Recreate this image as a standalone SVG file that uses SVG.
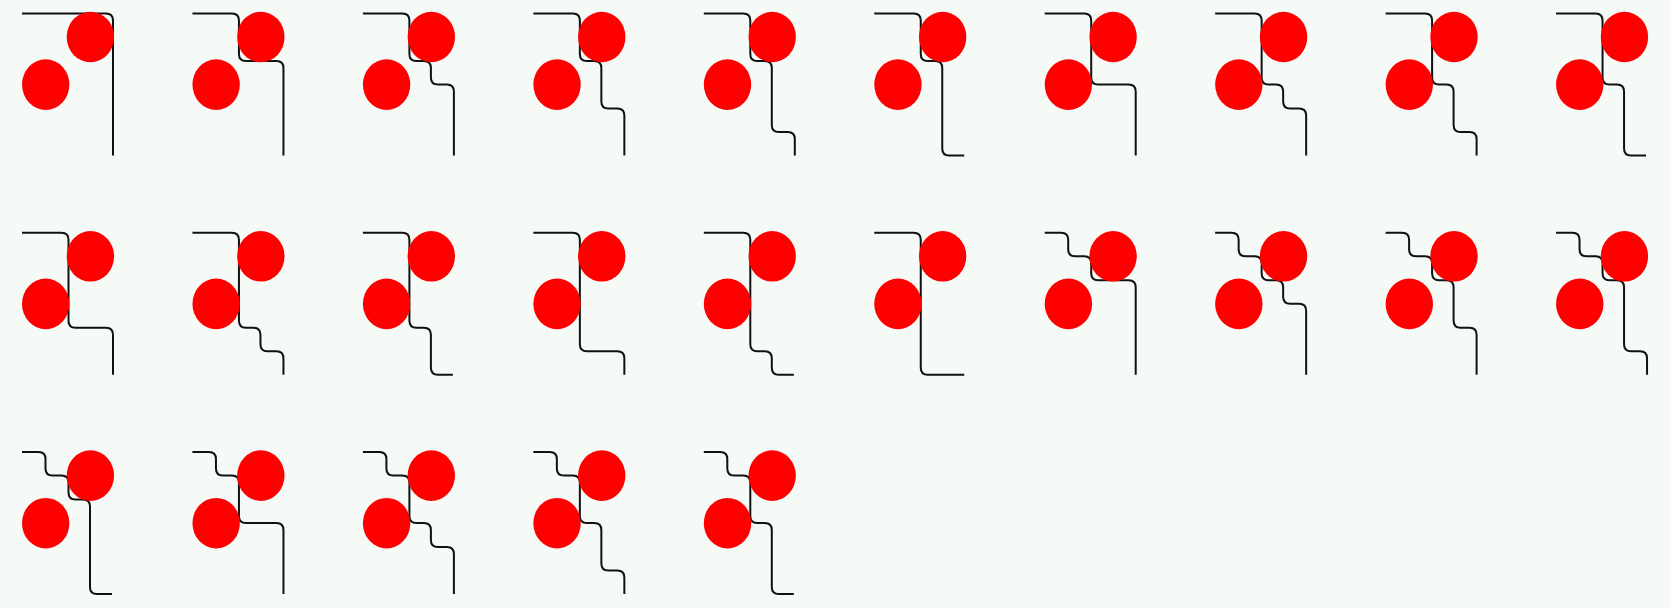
<svg xmlns="http://www.w3.org/2000/svg" width="1671" height="608" viewBox="0 0 1671 608">
<style>
.e{fill:none;stroke:#111;stroke-width:2;stroke-linejoin:round}
.n{fill:#ff0000}
</style>
<rect x="0" y="0" width="1671" height="608" fill="#f5faf7"/>
<g id="connectors">
<path class="e" transform="translate(0,0)" d="M22 13.5 H106 Q113 13.5 113 20.5 V155.5"/>
<path class="e" transform="translate(170.45,0)" d="M22 13.5 H61.5 Q68.5 13.5 68.5 20.5 V54 Q68.5 61 75.5 61 H106 Q113 61 113 68 V155.5"/>
<path class="e" transform="translate(340.9,0)" d="M22 13.5 H61.5 Q68.5 13.5 68.5 20.5 V54 Q68.5 61 75.5 61 H83 Q90 61 90 68 V77.5 Q90 84.5 97 84.5 H106 Q113 84.5 113 91.5 V155.5"/>
<path class="e" transform="translate(511.35,0)" d="M22 13.5 H61.5 Q68.5 13.5 68.5 20.5 V54 Q68.5 61 75.5 61 H83 Q90 61 90 68 V101.5 Q90 108.5 97 108.5 H106 Q113 108.5 113 115.5 V155.5"/>
<path class="e" transform="translate(681.8,0)" d="M22 13.5 H61.5 Q68.5 13.5 68.5 20.5 V54 Q68.5 61 75.5 61 H83 Q90 61 90 68 V125 Q90 132 97 132 H106 Q113 132 113 139 V155.5"/>
<path class="e" transform="translate(852.25,0)" d="M22 13.5 H61.5 Q68.5 13.5 68.5 20.5 V54 Q68.5 61 75.5 61 H83 Q90 61 90 68 V148.5 Q90 155.5 97 155.5 H112"/>
<path class="e" transform="translate(1022.7,0)" d="M22 13.5 H61.5 Q68.5 13.5 68.5 20.5 V77.5 Q68.5 84.5 75.5 84.5 H106 Q113 84.5 113 91.5 V155.5"/>
<path class="e" transform="translate(1193.15,0)" d="M22 13.5 H61.5 Q68.5 13.5 68.5 20.5 V77.5 Q68.5 84.5 75.5 84.5 H83 Q90 84.5 90 91.5 V101.5 Q90 108.5 97 108.5 H106 Q113 108.5 113 115.5 V155.5"/>
<path class="e" transform="translate(1363.6,0)" d="M22 13.5 H61.5 Q68.5 13.5 68.5 20.5 V77.5 Q68.5 84.5 75.5 84.5 H83 Q90 84.5 90 91.5 V125 Q90 132 97 132 H106 Q113 132 113 139 V155.5"/>
<path class="e" transform="translate(1534.05,0)" d="M22 13.5 H61.5 Q68.5 13.5 68.5 20.5 V77.5 Q68.5 84.5 75.5 84.5 H83 Q90 84.5 90 91.5 V148.5 Q90 155.5 97 155.5 H112"/>
<path class="e" transform="translate(0,219.3)" d="M22 13.5 H61.5 Q68.5 13.5 68.5 20.5 V101.5 Q68.5 108.5 75.5 108.5 H106 Q113 108.5 113 115.5 V155.5"/>
<path class="e" transform="translate(170.45,219.3)" d="M22 13.5 H61.5 Q68.5 13.5 68.5 20.5 V101.5 Q68.5 108.5 75.5 108.5 H83 Q90 108.5 90 115.5 V125 Q90 132 97 132 H106 Q113 132 113 139 V155.5"/>
<path class="e" transform="translate(340.9,219.3)" d="M22 13.5 H61.5 Q68.5 13.5 68.5 20.5 V101.5 Q68.5 108.5 75.5 108.5 H83 Q90 108.5 90 115.5 V148.5 Q90 155.5 97 155.5 H112"/>
<path class="e" transform="translate(511.35,219.3)" d="M22 13.5 H61.5 Q68.5 13.5 68.5 20.5 V125 Q68.5 132 75.5 132 H106 Q113 132 113 139 V155.5"/>
<path class="e" transform="translate(681.8,219.3)" d="M22 13.5 H61.5 Q68.5 13.5 68.5 20.5 V125 Q68.5 132 75.5 132 H83 Q90 132 90 139 V148.5 Q90 155.5 97 155.5 H112"/>
<path class="e" transform="translate(852.25,219.3)" d="M22 13.5 H61.5 Q68.5 13.5 68.5 20.5 V148.5 Q68.5 155.5 75.5 155.5 H112"/>
<path class="e" transform="translate(1022.7,219.3)" d="M22 13.5 H38.5 Q45.5 13.5 45.5 20.5 V30 Q45.5 37 52.5 37 H61.5 Q68.5 37 68.5 44 V54 Q68.5 61 75.5 61 H106 Q113 61 113 68 V155.5"/>
<path class="e" transform="translate(1193.15,219.3)" d="M22 13.5 H38.5 Q45.5 13.5 45.5 20.5 V30 Q45.5 37 52.5 37 H61.5 Q68.5 37 68.5 44 V54 Q68.5 61 75.5 61 H83 Q90 61 90 68 V77.5 Q90 84.5 97 84.5 H106 Q113 84.5 113 91.5 V155.5"/>
<path class="e" transform="translate(1363.6,219.3)" d="M22 13.5 H38.5 Q45.5 13.5 45.5 20.5 V30 Q45.5 37 52.5 37 H61.5 Q68.5 37 68.5 44 V54 Q68.5 61 75.5 61 H83 Q90 61 90 68 V101.5 Q90 108.5 97 108.5 H106 Q113 108.5 113 115.5 V155.5"/>
<path class="e" transform="translate(1534.05,219.3)" d="M22 13.5 H38.5 Q45.5 13.5 45.5 20.5 V30 Q45.5 37 52.5 37 H61.5 Q68.5 37 68.5 44 V54 Q68.5 61 75.5 61 H83 Q90 61 90 68 V125 Q90 132 97 132 H106 Q113 132 113 139 V155.5"/>
<path class="e" transform="translate(0,438.6)" d="M22 13.5 H38.5 Q45.5 13.5 45.5 20.5 V30 Q45.5 37 52.5 37 H61.5 Q68.5 37 68.5 44 V54 Q68.5 61 75.5 61 H83 Q90 61 90 68 V148.5 Q90 155.5 97 155.5 H112"/>
<path class="e" transform="translate(170.45,438.6)" d="M22 13.5 H38.5 Q45.5 13.5 45.5 20.5 V30 Q45.5 37 52.5 37 H61.5 Q68.5 37 68.5 44 V77.5 Q68.5 84.5 75.5 84.5 H106 Q113 84.5 113 91.5 V155.5"/>
<path class="e" transform="translate(340.9,438.6)" d="M22 13.5 H38.5 Q45.5 13.5 45.5 20.5 V30 Q45.5 37 52.5 37 H61.5 Q68.5 37 68.5 44 V77.5 Q68.5 84.5 75.5 84.5 H83 Q90 84.5 90 91.5 V101.5 Q90 108.5 97 108.5 H106 Q113 108.5 113 115.5 V155.5"/>
<path class="e" transform="translate(511.35,438.6)" d="M22 13.5 H38.5 Q45.5 13.5 45.5 20.5 V30 Q45.5 37 52.5 37 H61.5 Q68.5 37 68.5 44 V77.5 Q68.5 84.5 75.5 84.5 H83 Q90 84.5 90 91.5 V125 Q90 132 97 132 H106 Q113 132 113 139 V155.5"/>
<path class="e" transform="translate(681.8,438.6)" d="M22 13.5 H38.5 Q45.5 13.5 45.5 20.5 V30 Q45.5 37 52.5 37 H61.5 Q68.5 37 68.5 44 V77.5 Q68.5 84.5 75.5 84.5 H83 Q90 84.5 90 91.5 V148.5 Q90 155.5 97 155.5 H112"/>
</g>
<g id="nodes">
<g id="a-1-1"><ellipse class="n" cx="90.4" cy="37" rx="23.7" ry="25.3"/></g>
<g id="b-1-1"><ellipse class="n" cx="45.7" cy="84.6" rx="23.7" ry="25.3"/></g>
<g id="a-1-2"><ellipse class="n" cx="260.85" cy="37" rx="23.7" ry="25.3"/></g>
<g id="b-1-2"><ellipse class="n" cx="216.15" cy="84.6" rx="23.7" ry="25.3"/></g>
<g id="a-1-3"><ellipse class="n" cx="431.3" cy="37" rx="23.7" ry="25.3"/></g>
<g id="b-1-3"><ellipse class="n" cx="386.6" cy="84.6" rx="23.7" ry="25.3"/></g>
<g id="a-1-4"><ellipse class="n" cx="601.75" cy="37" rx="23.7" ry="25.3"/></g>
<g id="b-1-4"><ellipse class="n" cx="557.05" cy="84.6" rx="23.7" ry="25.3"/></g>
<g id="a-1-5"><ellipse class="n" cx="772.2" cy="37" rx="23.7" ry="25.3"/></g>
<g id="b-1-5"><ellipse class="n" cx="727.5" cy="84.6" rx="23.7" ry="25.3"/></g>
<g id="a-1-6"><ellipse class="n" cx="942.65" cy="37" rx="23.7" ry="25.3"/></g>
<g id="b-1-6"><ellipse class="n" cx="897.95" cy="84.6" rx="23.7" ry="25.3"/></g>
<g id="a-1-7"><ellipse class="n" cx="1113.1" cy="37" rx="23.7" ry="25.3"/></g>
<g id="b-1-7"><ellipse class="n" cx="1068.4" cy="84.6" rx="23.7" ry="25.3"/></g>
<g id="a-1-8"><ellipse class="n" cx="1283.55" cy="37" rx="23.7" ry="25.3"/></g>
<g id="b-1-8"><ellipse class="n" cx="1238.85" cy="84.6" rx="23.7" ry="25.3"/></g>
<g id="a-1-9"><ellipse class="n" cx="1454" cy="37" rx="23.7" ry="25.3"/></g>
<g id="b-1-9"><ellipse class="n" cx="1409.3" cy="84.6" rx="23.7" ry="25.3"/></g>
<g id="a-1-10"><ellipse class="n" cx="1624.45" cy="37" rx="23.7" ry="25.3"/></g>
<g id="b-1-10"><ellipse class="n" cx="1579.75" cy="84.6" rx="23.7" ry="25.3"/></g>
<g id="a-2-1"><ellipse class="n" cx="90.4" cy="256.3" rx="23.7" ry="25.3"/></g>
<g id="b-2-1"><ellipse class="n" cx="45.7" cy="303.9" rx="23.7" ry="25.3"/></g>
<g id="a-2-2"><ellipse class="n" cx="260.85" cy="256.3" rx="23.7" ry="25.3"/></g>
<g id="b-2-2"><ellipse class="n" cx="216.15" cy="303.9" rx="23.7" ry="25.3"/></g>
<g id="a-2-3"><ellipse class="n" cx="431.3" cy="256.3" rx="23.7" ry="25.3"/></g>
<g id="b-2-3"><ellipse class="n" cx="386.6" cy="303.9" rx="23.7" ry="25.3"/></g>
<g id="a-2-4"><ellipse class="n" cx="601.75" cy="256.3" rx="23.7" ry="25.3"/></g>
<g id="b-2-4"><ellipse class="n" cx="557.05" cy="303.9" rx="23.7" ry="25.3"/></g>
<g id="a-2-5"><ellipse class="n" cx="772.2" cy="256.3" rx="23.7" ry="25.3"/></g>
<g id="b-2-5"><ellipse class="n" cx="727.5" cy="303.9" rx="23.7" ry="25.3"/></g>
<g id="a-2-6"><ellipse class="n" cx="942.65" cy="256.3" rx="23.7" ry="25.3"/></g>
<g id="b-2-6"><ellipse class="n" cx="897.95" cy="303.9" rx="23.7" ry="25.3"/></g>
<g id="a-2-7"><ellipse class="n" cx="1113.1" cy="256.3" rx="23.7" ry="25.3"/></g>
<g id="b-2-7"><ellipse class="n" cx="1068.4" cy="303.9" rx="23.7" ry="25.3"/></g>
<g id="a-2-8"><ellipse class="n" cx="1283.55" cy="256.3" rx="23.7" ry="25.3"/></g>
<g id="b-2-8"><ellipse class="n" cx="1238.85" cy="303.9" rx="23.7" ry="25.3"/></g>
<g id="a-2-9"><ellipse class="n" cx="1454" cy="256.3" rx="23.7" ry="25.3"/></g>
<g id="b-2-9"><ellipse class="n" cx="1409.3" cy="303.9" rx="23.7" ry="25.3"/></g>
<g id="a-2-10"><ellipse class="n" cx="1624.45" cy="256.3" rx="23.7" ry="25.3"/></g>
<g id="b-2-10"><ellipse class="n" cx="1579.75" cy="303.9" rx="23.7" ry="25.3"/></g>
<g id="a-3-1"><ellipse class="n" cx="90.4" cy="475.6" rx="23.7" ry="25.3"/></g>
<g id="b-3-1"><ellipse class="n" cx="45.7" cy="523.2" rx="23.7" ry="25.3"/></g>
<g id="a-3-2"><ellipse class="n" cx="260.85" cy="475.6" rx="23.7" ry="25.3"/></g>
<g id="b-3-2"><ellipse class="n" cx="216.15" cy="523.2" rx="23.7" ry="25.3"/></g>
<g id="a-3-3"><ellipse class="n" cx="431.3" cy="475.6" rx="23.7" ry="25.3"/></g>
<g id="b-3-3"><ellipse class="n" cx="386.6" cy="523.2" rx="23.7" ry="25.3"/></g>
<g id="a-3-4"><ellipse class="n" cx="601.75" cy="475.6" rx="23.7" ry="25.3"/></g>
<g id="b-3-4"><ellipse class="n" cx="557.05" cy="523.2" rx="23.7" ry="25.3"/></g>
<g id="a-3-5"><ellipse class="n" cx="772.2" cy="475.6" rx="23.7" ry="25.3"/></g>
<g id="b-3-5"><ellipse class="n" cx="727.5" cy="523.2" rx="23.7" ry="25.3"/></g>
</g>
</svg>
